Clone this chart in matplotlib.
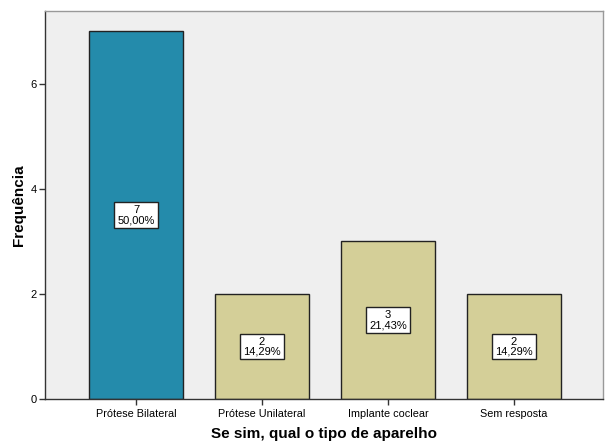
import matplotlib
matplotlib.use("Agg")
import matplotlib.pyplot as plt

categories = ["Prótese Bilateral", "Prótese Unilateral", "Implante coclear", "Sem resposta"]
counts = [7, 2, 3, 2]
percent_labels = ["50,00%", "14,29%", "21,43%", "14,29%"]
bar_colors = ["#248bab", "#d4cf98", "#d4cf98", "#d4cf98"]

plt.rcParams["font.family"] = ["Liberation Sans", "DejaVu Sans"]

fig = plt.figure(figsize=(6.05, 4.48), dpi=100)
fig.patch.set_facecolor("white")
ax = fig.add_axes([45 / 605, 49 / 448, 558 / 605, 388 / 448])
ax.set_facecolor("#efefef")

x = list(range(len(categories)))
ax.bar(x, counts, width=0.746, color=bar_colors, edgecolor="#222222", linewidth=1.0, zorder=2)

for xi, c, p in zip(x, counts, percent_labels):
    ax.text(xi, c / 2, f"{c}\n{p}", ha="center", va="center", fontsize=8,
            linespacing=0.95, zorder=3,
            bbox=dict(boxstyle="square,pad=0.28", facecolor="white", edgecolor="#222222", linewidth=1.0))

ax.set_xlim(-0.722, 3.706)
ax.set_ylim(0, 7.39)
ax.set_yticks([0, 2, 4, 6])
ax.set_xticks(x)
ax.set_xticklabels(categories)
ax.tick_params(axis="both", labelsize=8, length=4, width=1, color="#333333", direction="out", pad=2)
ax.tick_params(axis="x", labelsize=7.8, pad=3)

for side in ["left", "bottom"]:
    ax.spines[side].set_color("#333333")
    ax.spines[side].set_linewidth(1.0)
for side in ["top", "right"]:
    ax.spines[side].set_color("#999999")
    ax.spines[side].set_linewidth(1.0)

ax.set_xlabel("Se sim, qual o tipo de aparelho", fontsize=11, fontweight="bold", labelpad=6)
ax.set_ylabel("Frequência", fontsize=11, fontweight="bold", labelpad=3)

fig.savefig("out.png", dpi=100)
